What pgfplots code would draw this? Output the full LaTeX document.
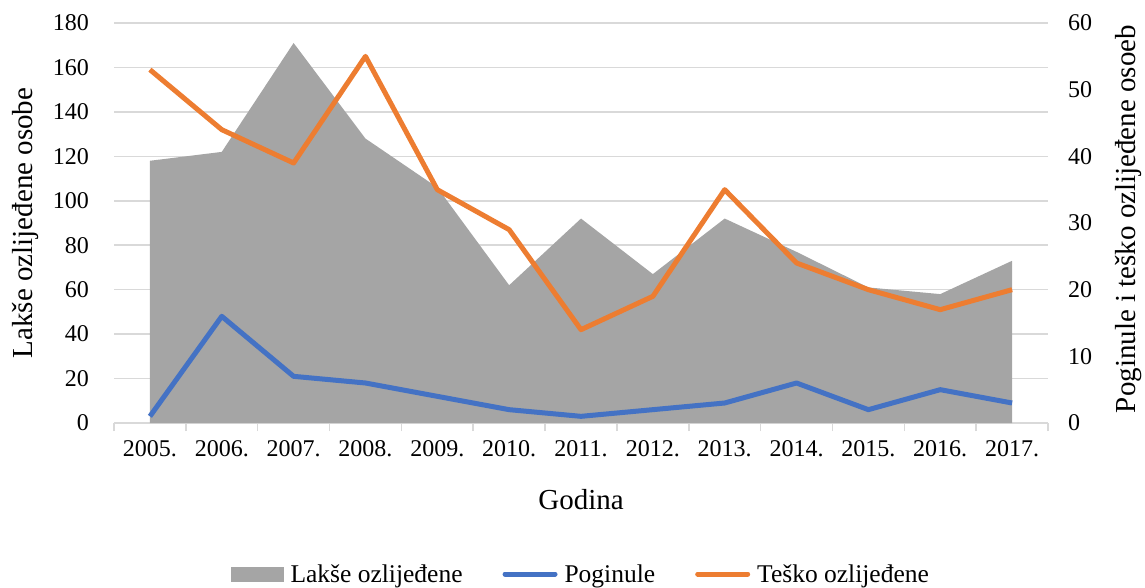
\documentclass[border=0pt]{standalone}
\usepackage{fontspec}
\setmainfont{Liberation Serif}
\usepackage{pgfplots}
\pgfplotsset{compat=1.18}
\definecolor{areaGray}{HTML}{A5A5A5}
\definecolor{lineBlue}{HTML}{4472C4}
\definecolor{lineOrange}{HTML}{ED7D31}
\definecolor{gridGray}{HTML}{D9D9D9}
\newcommand{\tickfont}{\fontsize{24}{28}\selectfont}
\newcommand{\titlefont}{\fontsize{29}{33}\selectfont}
\newcommand{\legendfont}{\fontsize{25.5}{29}\selectfont}

\begin{document}
\begin{tikzpicture}
\useasboundingbox (0pt,0pt) rectangle (1145pt,587pt);
\pgfplotsset{
    base/.style={
        at={(114pt,164pt)}, anchor=south west,
        scale only axis, width=934pt, height=400pt,
        xmin=-0.5, xmax=12.5,
        /pgf/number format/assume math mode=true,
        tick label style={font=\tickfont},
    },
}
% left axis: Lakse ozlijedene (area)
\begin{axis}[
    base,
    ymin=0, ymax=180,
    ytick={0,20,...,180},
    ymajorgrids=true,
    grid style={draw=gridGray, line width=1.5pt},
    axis x line*=bottom,
    axis y line*=left,
    y axis line style={draw=none},
    x axis line style={draw=gridGray, line width=1.5pt},
    xtick={0,...,12},
    xticklabels={2005.,2006.,2007.,2008.,2009.,2010.,2011.,2012.,2013.,2014.,2015.,2016.,2017.},
    major x tick style={draw=none},
    minor xtick={-0.5,0.5,...,12.5},
    minor x tick style={draw=gridGray, line width=1.5pt},
    minor tick length=8pt,
    tick align=outside,
    major tick length=0pt,
    ytick style={draw=none},
    xticklabel style={yshift=-14pt},
    yticklabel style={inner sep=0pt, xshift=-25pt},
    xlabel={Godina},
    every axis x label/.style={at={(axis description cs:0.5,-0.1925)}, anchor=center, font=\titlefont},
    ylabel={Lakše ozlijeđene osobe},
    every axis y label/.style={at={(axis description cs:-0.095,0.5)}, rotate=90, anchor=center, font=\titlefont},
]
\addplot[fill=areaGray, draw=none] coordinates {
    (0,118) (1,122) (2,171) (3,128) (4,106) (5,62) (6,92)
    (7,67) (8,92) (9,77) (10,61) (11,58) (12,73)
} \closedcycle;
\end{axis}
% right axis: Poginule, Tesko ozlijedene (lines)
\begin{axis}[
    base,
    ymin=0, ymax=60,
    ytick={0,10,...,60},
    axis x line=none,
    axis y line*=right,
    y axis line style={draw=none},
    ytick style={draw=none},
    major tick length=0pt,
    yticklabel style={inner sep=0pt, anchor=west, xshift=20pt},
    ylabel={Poginule i teško ozlijeđene osoeb},
    every axis y label/.style={at={(axis description cs:1.0857,0.51)}, rotate=90, anchor=center, font=\titlefont},
    legend columns=3,
    legend style={
        at={(axis description cs:0.5,-0.3775)}, anchor=center,
        draw=none, fill=none, font=\legendfont,
        /tikz/every odd column/.append style={column sep=5pt},
        /tikz/every even column/.append style={column sep=38pt},
        inner sep=0pt,
    },
    legend cell align=left,
]
\addlegendimage{
    legend image code/.code={\fill[areaGray] (0pt,-7pt) rectangle (52pt,7pt);}
}
\addlegendentry{Lakše ozlijeđene}
\addplot[lineBlue, line width=5pt, line join=round,
    legend image code/.code={\draw[lineBlue, line width=5pt, line cap=round] (2pt,0pt) -- (52pt,0pt);}]
coordinates {
    (0,1) (1,16) (2,7) (3,6) (4,4) (5,2) (6,1)
    (7,2) (8,3) (9,6) (10,2) (11,5) (12,3)
};
\addlegendentry{Poginule}
\addplot[lineOrange, line width=5pt, line join=round,
    legend image code/.code={\draw[lineOrange, line width=5pt, line cap=round] (2pt,0pt) -- (52pt,0pt);}]
coordinates {
    (0,53) (1,44) (2,39) (3,55) (4,35) (5,29) (6,14)
    (7,19) (8,35) (9,24) (10,20) (11,17) (12,20)
};
\addlegendentry{Teško ozlijeđene}
\end{axis}
\end{tikzpicture}
\end{document}
